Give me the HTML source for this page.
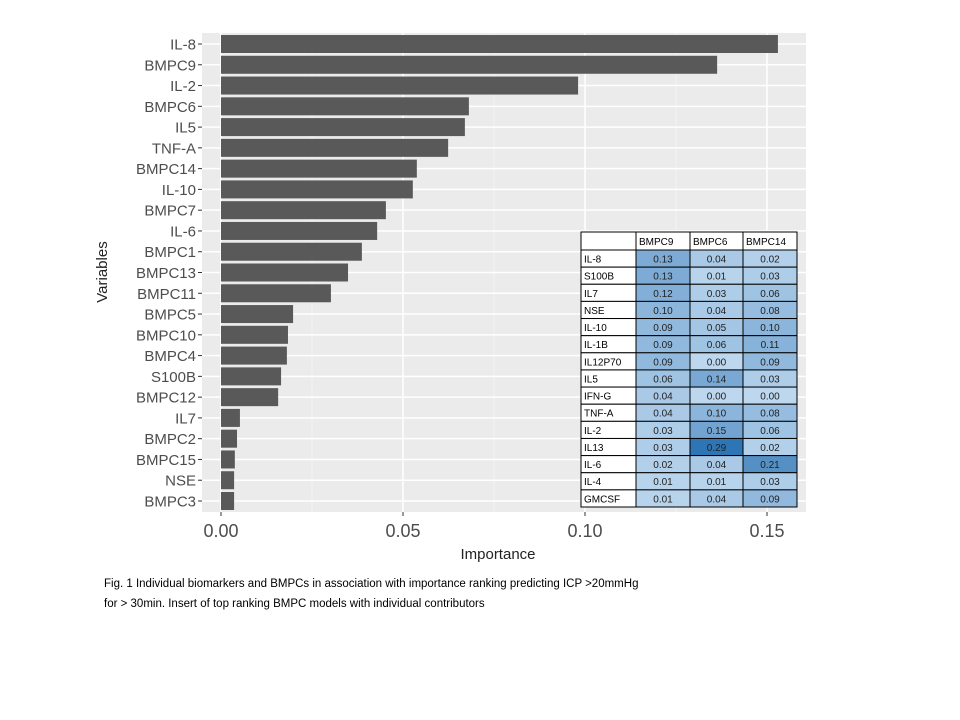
<!DOCTYPE html>
<html><head><meta charset="utf-8"><style>
body{margin:0;background:#fff;width:960px;height:720px;overflow:hidden;font-family:"Liberation Sans",sans-serif;}
svg{position:absolute;left:0;top:0}
</style></head><body>
<svg id="chart" width="960" height="720" xmlns="http://www.w3.org/2000/svg"></svg>
<script>
const categories=["IL-8","BMPC9","IL-2","BMPC6","IL5","TNF-A","BMPC14","IL-10","BMPC7","IL-6","BMPC1","BMPC13","BMPC11","BMPC5","BMPC10","BMPC4","S100B","BMPC12","IL7","BMPC2","BMPC15","NSE","BMPC3"];
const importance=[0.153,0.1363,0.0981,0.0681,0.067,0.0624,0.0538,0.0527,0.0453,0.0429,0.0387,0.0349,0.0302,0.0198,0.0184,0.0181,0.0165,0.0157,0.0052,0.0044,0.0038,0.0036,0.0036];
const xTicks=[0,0.05,0.10,0.15];
const xTickLabels=["0.00","0.05","0.10","0.15"];
const tableCols=["BMPC9","BMPC6","BMPC14"];
const tableRows=["IL-8","S100B","IL7","NSE","IL-10","IL-1B","IL12P70","IL5","IFN-G","TNF-A","IL-2","IL13","IL-6","IL-4","GMCSF"];
const colBMPC9=[0.13,0.13,0.12,0.10,0.09,0.09,0.09,0.06,0.04,0.04,0.03,0.03,0.02,0.01,0.01];
const colBMPC6=[0.04,0.01,0.03,0.04,0.05,0.06,0.00,0.14,0.00,0.10,0.15,0.29,0.04,0.01,0.04];
const colBMPC14=[0.02,0.03,0.06,0.08,0.10,0.11,0.09,0.03,0.00,0.08,0.06,0.02,0.21,0.03,0.09];

const svg=document.getElementById('chart');
const NS='http://www.w3.org/2000/svg';
function mk(tag,attrs,parent){const e=document.createElementNS(NS,tag);for(const k in attrs)e.setAttribute(k,attrs[k]);(parent||svg).appendChild(e);return e;}
const P={l:202,r:806,t:33,b:512};
const x=v=>221+v*3640;
const step=(501-44)/(categories.length-1);
const y=i=>44+i*step;

const panel=mk('rect',{x:P.l,y:P.t,width:P.r-P.l,height:P.b-P.t,fill:'#ebebeb'});


// minor grid
for(let i=0;i<xTicks.length;i++){const m=xTicks[i]+0.025;if(x(m)<P.r){const g=mk('line',{x1:x(m),x2:x(m),y1:P.t,y2:P.b,stroke:'#f5f5f5','stroke-width':0.8});

}}
xTicks.forEach((t,i)=>{const g=mk('line',{x1:x(t),x2:x(t),y1:P.t,y2:P.b,stroke:'#fff','stroke-width':1.5});


const tk=mk('line',{x1:x(t),x2:x(t),y1:P.b,y2:P.b+4,stroke:'#333','stroke-width':1});


const tl=mk('text',{x:x(t),y:537,'text-anchor':'middle','font-size':18,fill:'#4d4d4d'});tl.textContent=xTickLabels[i];

});
categories.forEach((c,i)=>{const g=mk('line',{x1:P.l,x2:P.r,y1:y(i),y2:y(i),stroke:'#fff','stroke-width':1.5});

});
categories.forEach((c,i)=>{
const b=mk('rect',{x:x(0),y:y(i)-9,width:x(importance[i])-x(0),height:18,fill:'#595959'});


const tk=mk('line',{x1:P.l-4,x2:P.l,y1:y(i),y2:y(i),stroke:'#333','stroke-width':1});


const t=mk('text',{x:P.l-6,y:y(i)+5.5,'text-anchor':'end','font-size':15,fill:'#4d4d4d'});t.textContent=c;

});
const xt=mk('text',{x:498,y:559,'text-anchor':'middle','font-size':15,fill:'#222'});xt.textContent='Importance';


const yt=mk('text',{x:107,y:272,'text-anchor':'middle','font-size':15,fill:'#222',transform:'rotate(-90 107 272)'});yt.textContent='Variables';



// inset table
const T={x:581,y:232,w:[55,54,53,54],hh:18,rh:(507-250)/15};
const tg=mk('g',{});


const cols=[colBMPC9,colBMPC6,colBMPC14];
function color(v){const t=Math.min(v/0.29,1);const a=[189,215,238],b=[46,117,182];return 'rgb('+a.map((c,i)=>Math.round(c+(b[i]-c)*t)).join(',')+')';}
let cx=[T.x];for(const w of T.w)cx.push(cx[cx.length-1]+w);
const hb=mk('rect',{x:T.x,y:T.y,width:cx[4]-T.x,height:T.hh,fill:'#fff',stroke:'#000','stroke-width':1},tg);


tableCols.forEach((c,j)=>{const r=mk('rect',{x:cx[j+1],y:T.y,width:T.w[j+1],height:T.hh,fill:'#fff',stroke:'#000','stroke-width':1},tg);


const t=mk('text',{x:cx[j+1]+3,y:T.y+13,'font-size':10,fill:'#000'},tg);t.textContent=c;

});
tableRows.forEach((rn,i)=>{const yy=T.y+T.hh+i*T.rh;
const r=mk('rect',{x:T.x,y:yy,width:T.w[0],height:T.rh,fill:'#fff',stroke:'#000','stroke-width':1},tg);


const t=mk('text',{x:T.x+3,y:yy+12.5,'font-size':10,fill:'#000'},tg);t.textContent=rn;


cols.forEach((col,j)=>{const c=mk('rect',{x:cx[j+1],y:yy,width:T.w[j+1],height:T.rh,fill:color(col[i]),stroke:'#000','stroke-width':1},tg);


const v=mk('text',{x:cx[j+1]+T.w[j+1]/2,y:yy+12.5,'text-anchor':'middle','font-size':10,fill:'#222'},tg);v.textContent=col[i].toFixed(2);

});});

const c1=mk('text',{x:104,y:587,'font-size':11.5,fill:'#000'});c1.textContent='Fig. 1 Individual biomarkers and BMPCs  in association with importance ranking predicting ICP >20mmHg';


const c2=mk('text',{x:104,y:607,'font-size':11.5,fill:'#000'});c2.textContent='for > 30min.  Insert of top ranking BMPC models with individual contributors';


</script>
</body></html>
